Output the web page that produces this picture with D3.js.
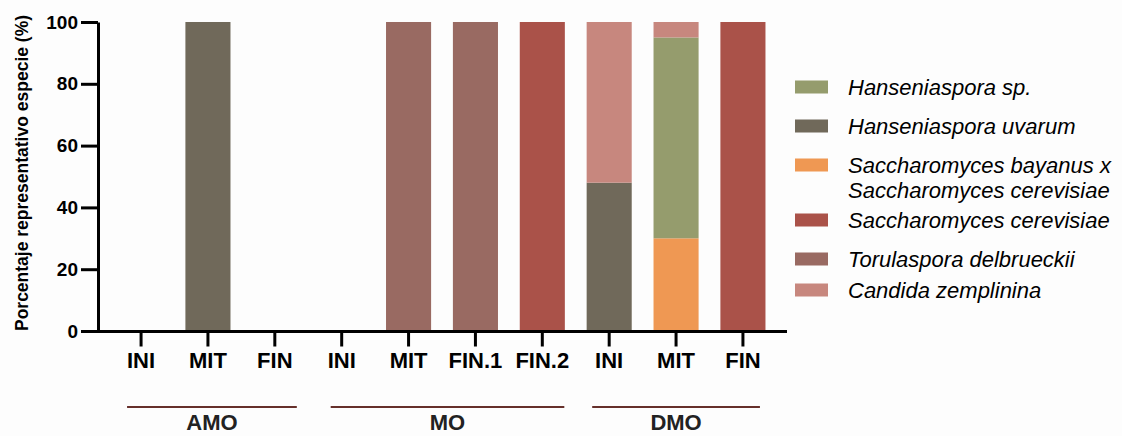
<!DOCTYPE html>
<html>
<head>
<meta charset="utf-8">
<script src="https://cdn.jsdelivr.net/npm/d3@7"></script>
<style>
  html, body { margin: 0; padding: 0; background: #fdfdfd; }
  svg { display: block; font-family: "Liberation Sans", Arial, sans-serif; }
</style>
</head>
<body>
<svg id="chart" width="1122" height="436"></svg>
<script>
// Sampling stages per fermentation group
const categories = ["INI", "MIT", "FIN", "INI", "MIT", "FIN.1", "FIN.2", "INI", "MIT", "FIN"];
const groups = [
  { name: "AMO", first: 0, last: 2 },
  { name: "MO", first: 3, last: 6 },
  { name: "DMO", first: 7, last: 9 }
];

// Species share (%) at each stage
const hanseniasporaSp   = [0, 0,   0, 0, 0,   0,   0,   0,  65, 0];
const hanseniasporaUva  = [0, 100, 0, 0, 0,   0,   0,   48, 0,  0];
const bayanusXcerev     = [0, 0,   0, 0, 0,   0,   0,   0,  30, 0];
const cerevisiae        = [0, 0,   0, 0, 0,   0,   100, 0,  0,  100];
const torulaspora       = [0, 0,   0, 0, 100, 100, 0,   0,  0,  0];
const candida           = [0, 0,   0, 0, 0,   0,   0,   52, 5,  0];

const yTicks = [0, 20, 40, 60, 80, 100];

const species = [
  { key: "sp",   label: ["Hanseniaspora sp."], values: hanseniasporaSp, color: "#959c6d" },
  { key: "uva",  label: ["Hanseniaspora uvarum"], values: hanseniasporaUva, color: "#70695a" },
  { key: "bay",  label: ["Saccharomyces bayanus x", "Saccharomyces cerevisiae"], values: bayanusXcerev, color: "#ef9853" },
  { key: "cer",  label: ["Saccharomyces cerevisiae"], values: cerevisiae, color: "#aa5249" },
  { key: "tor",  label: ["Torulaspora delbrueckii"], values: torulaspora, color: "#996a62" },
  { key: "can",  label: ["Candida zemplinina"], values: candida, color: "#c7877e" }
];
// bottom-to-top stacking order
const stackOrder = ["bay", "uva", "sp", "cer", "tor", "can"];

const rows = categories.map((c, i) => {
  const r = { idx: i };
  species.forEach(s => { r[s.key] = s.values[i]; });
  return r;
});

const svg = d3.select("#chart");
const x = d3.scaleBand()
  .domain(categories.map((c, i) => i))
  .range([98, 786])
  .paddingInner(0.326)
  .paddingOuter(0.307);
const y = d3.scaleLinear().domain([0, 100]).range([331, 22]);
const cx = i => x(i) + x.bandwidth() / 2;

const colorOf = Object.fromEntries(species.map(s => [s.key, s.color]));
const stacked = d3.stack().keys(stackOrder)(rows);

// Stacked bars
svg.append("g").selectAll("g")
  .data(stacked)
  .join("g")
  .attr("fill", d => colorOf[d.key])
  .selectAll("rect")
  .data(d => d.filter(p => p[1] - p[0] > 0))
  .join("rect")
  .attr("x", d => x(d.data.idx))
  .attr("width", x.bandwidth())
  .attr("y", d => y(d[1]))
  .attr("height", d => y(d[0]) - y(d[1]));

// Y axis
const yAxis = svg.append("g")
  .attr("transform", "translate(98,0)")
  .call(d3.axisLeft(y).tickValues(yTicks).tickSize(17).tickPadding(3).tickSizeOuter(0));
yAxis.select(".domain").attr("stroke", "#000").attr("stroke-width", 3);
yAxis.selectAll(".tick line").attr("stroke", "#000").attr("stroke-width", 3);
yAxis.selectAll(".tick text")
  .attr("fill", "#000")
  .style("font-size", "19px")
  .style("font-weight", "bold")
  .style("font-family", "'Liberation Sans', Arial, sans-serif");

// X axis
const xAxis = svg.append("g")
  .attr("transform", "translate(0,331.5)")
  .call(d3.axisBottom(x).tickFormat(i => categories[i]).tickSize(15).tickPadding(6).tickSizeOuter(0));
xAxis.select(".domain").attr("stroke", "#000").attr("stroke-width", 3)
  .attr("d", "M96.5,0H787");
xAxis.selectAll(".tick line").attr("stroke", "#000").attr("stroke-width", 3);
xAxis.selectAll(".tick text")
  .attr("fill", "#000")
  .style("font-size", "22px")
  .style("font-weight", "bold")
  .style("font-family", "'Liberation Sans', Arial, sans-serif");

// Y axis title
svg.append("text")
  .attr("transform", "translate(28,173) rotate(-90)")
  .attr("text-anchor", "middle")
  .style("font-size", "17.5px")
  .style("font-weight", "bold")
  .attr("fill", "#000")
  .text("Porcentaje representativo especie (%)");

// Group brackets and names (bracket overhang left/right of the outer ticks)
const bracketOverhang = [[14, 22], [11, 22], [17, 17]];
const gGroups = svg.append("g");
groups.forEach((g, k) => {
  const x0 = cx(g.first) - bracketOverhang[k][0];
  const x1 = cx(g.last) + bracketOverhang[k][1];
  gGroups.append("line")
    .attr("x1", x0).attr("x2", x1)
    .attr("y1", 407).attr("y2", 407)
    .attr("stroke", "#66302b").attr("stroke-width", 2);
  gGroups.append("text")
    .attr("x", (x0 + x1) / 2)
    .attr("y", 430)
    .attr("text-anchor", "middle")
    .style("font-size", "22px")
    .style("font-weight", "bold")
    .attr("fill", "#222")
    .text(g.name);
});

// Legend
const legendRows = [87, 126, 165, 220, 259, 290];
const legend = svg.append("g");
species.forEach((s, i) => {
  const cy = legendRows[i];
  legend.append("rect")
    .attr("x", 795).attr("y", cy - 6.5)
    .attr("width", 33).attr("height", 13)
    .attr("fill", s.color);
  s.label.forEach((line, j) => {
    legend.append("text")
      .attr("x", 848)
      .attr("y", cy + 7.5 + j * 25)
      .style("font-size", "22px")
      .style("font-style", "italic")
      .attr("fill", "#000")
      .text(line);
  });
});
</script>
</body>
</html>
